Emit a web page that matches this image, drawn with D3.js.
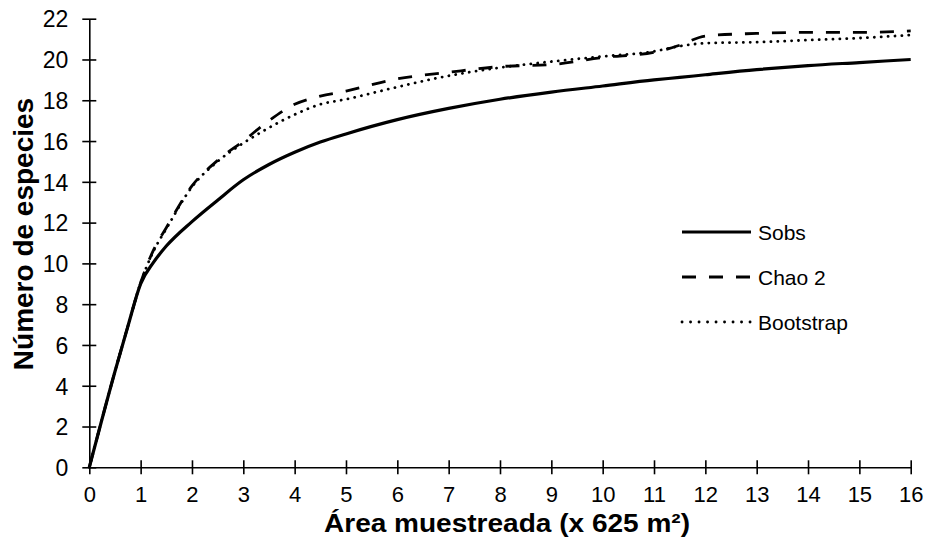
<!DOCTYPE html>
<html>
<head>
<meta charset="utf-8">
<script src="https://cdn.jsdelivr.net/npm/d3@7"></script>
<style>
  body { margin: 0; background: #fff; }
  text { font-family: "Liberation Sans", Arial, sans-serif; fill: #000; }
</style>
</head>
<body>
<svg id="chart" width="927" height="538"></svg>
<script>
// Data
const area = [0, 0.5, 0.75, 1, 1.25, 1.5, 2, 2.5, 3, 3.5, 4, 4.5, 5, 6, 7, 8, 9, 10, 11, 11.5, 12, 13, 14, 15, 16];
const sobs = [0, 4.7, 6.9, 9.0, 10.05, 10.85, 12.05, 13.1, 14.1, 14.85, 15.45, 15.95, 16.35, 17.05, 17.6, 18.05, 18.4, 18.7, 19.0, 19.12, 19.25, 19.5, 19.7, 19.85, 20.0];
const chao2 = [0, 4.7, 6.9, 9.05, 10.65, 11.75, 13.8, 15.05, 16.0, 17.0, 17.8, 18.2, 18.45, 19.05, 19.37, 19.65, 19.75, 20.1, 20.35, 20.7, 21.15, 21.28, 21.33, 21.33, 21.4];
const bootstrap = [0, 4.7, 6.9, 9.05, 10.6, 11.7, 13.75, 15.0, 15.9, 16.65, 17.3, 17.8, 18.05, 18.65, 19.2, 19.6, 19.9, 20.15, 20.4, 20.65, 20.8, 20.85, 20.95, 21.05, 21.2];
const xTicks = d3.range(0, 17, 1);
const yTicks = d3.range(0, 23, 2);
const seriesNames = ["Sobs", "Chao 2", "Bootstrap"];
const xTitle = "Área muestreada (x 625 m²)";
const yTitle = "Número de especies";

const svg = d3.select("#chart");
const mLeft = 89.3, mRight = 910.7, mTop = 18.7, mBottom = 467.3;
const x = d3.scaleLinear().domain([0, 16]).range([mLeft, mRight]);
const y = d3.scaleLinear().domain([0, 22]).range([mBottom, mTop]);

// axes
const xAxis = svg.append("g").attr("transform", `translate(0,${mBottom})`)
  .call(d3.axisBottom(x).tickValues(xTicks).tickSize(0).tickSizeOuter(0).tickFormat(d3.format("d")));
xAxis.select(".domain").attr("stroke", "#000").attr("stroke-width", 1.6);
xAxis.selectAll(".tick line").remove();
xAxis.selectAll(".tick").append("line").attr("y1", -7).attr("y2", 7).attr("stroke", "#000").attr("stroke-width", 1.6);
xAxis.selectAll(".tick text").attr("y", 35).attr("dy", 0).attr("font-size", 22).attr("fill", "#000");

const yAxis = svg.append("g").attr("transform", `translate(${mLeft},0)`)
  .call(d3.axisLeft(y).tickValues(yTicks).tickSize(0).tickSizeOuter(0).tickFormat(d3.format("d")));
yAxis.select(".domain").attr("stroke", "#000").attr("stroke-width", 1.6);
yAxis.selectAll(".tick line").remove();
yAxis.selectAll(".tick").append("line").attr("x1", -7).attr("x2", 7).attr("stroke", "#000").attr("stroke-width", 1.6);
yAxis.selectAll(".tick text").attr("x", -21).attr("dy", "0.36em").attr("font-size", 23).attr("fill", "#000");
svg.selectAll(".tick text").style("font-family", '"Liberation Sans", Arial, sans-serif');

// lines
const styles = [
  { dash: null, width: 3.2, cap: "butt" },
  { dash: "14,13", width: 2.8, cap: "butt" },
  { dash: "0.1,6.8", width: 2.8, cap: "round" }
];
const allSeries = [sobs, chao2, bootstrap];
const line = d3.line().x((d, i) => x(area[i])).y(d => y(d)).curve(d3.curveMonotoneX);
allSeries.forEach((vals, k) => {
  svg.append("path").datum(vals).attr("d", line)
    .attr("fill", "none").attr("stroke", "#000")
    .attr("stroke-width", styles[k].width)
    .attr("stroke-linecap", styles[k].cap)
    .attr("stroke-dasharray", styles[k].dash);
});

// legend
const legY = [232, 277, 322];
seriesNames.forEach((name, k) => {
  svg.append("line").attr("x1", 682).attr("x2", 751).attr("y1", legY[k]).attr("y2", legY[k])
    .attr("stroke", "#000").attr("stroke-width", styles[k].width)
    .attr("stroke-linecap", styles[k].cap)
    .attr("stroke-dasharray", k === 2 ? "0.1,8.4" : styles[k].dash);
  svg.append("text").attr("x", 758).attr("y", legY[k]).attr("dy", "0.36em")
    .attr("font-size", 21).text(name);
});

// titles
svg.append("text").attr("x", 507).attr("y", 532).attr("text-anchor", "middle")
  .attr("font-size", 25).attr("font-weight", "bold")
  .attr("textLength", 366).attr("lengthAdjust", "spacingAndGlyphs").text(xTitle);
svg.append("text").attr("transform", "translate(33,234) rotate(-90)").attr("text-anchor", "middle")
  .attr("font-size", 28).attr("font-weight", "bold").text(yTitle);
</script>
</body>
</html>
